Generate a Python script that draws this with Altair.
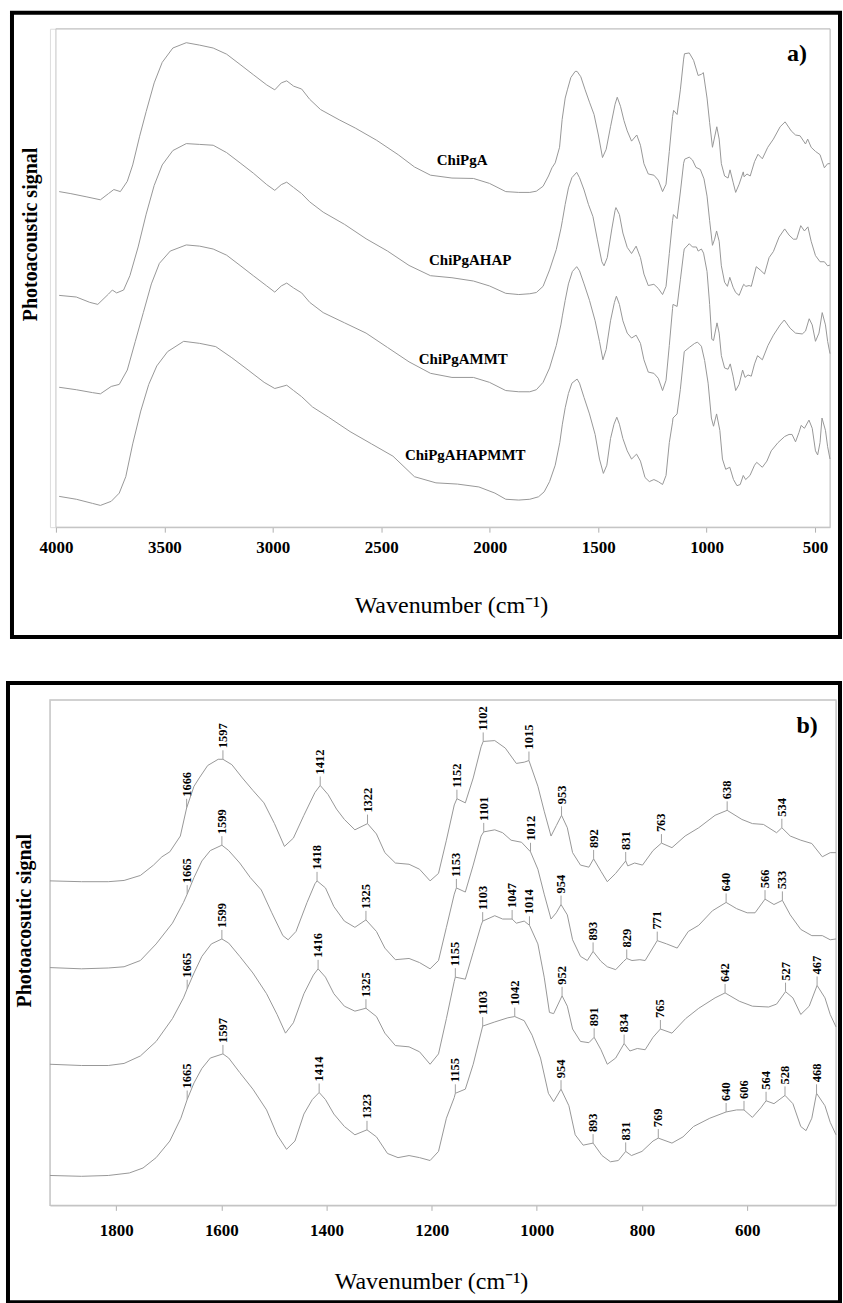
import altair as alt
import pandas as pd

samples = ["ChiPgA", "ChiPgAHAP", "ChiPgAMMT", "ChiPgAHAPMMT"]

# ---- high-wavenumber part (4000-1950 cm-1), heights relative to each trace's 1900 baseline
hi_w_1 = [3985, 3931, 3857, 3795, 3758, 3733, 3703, 3671, 3646, 3614, 3584, 3547, 3510, 3461, 3399, 3337, 3275, 3213, 3151, 3090, 3028, 2991, 2961, 2936, 2904, 2867, 2830, 2780, 2694, 2620, 2521, 2422, 2347, 2273, 2174, 2075, 2001]
hi_h_1 = [0, -5, -13, -20, -5, 5, 0, 25, 65, 135, 195, 265, 315, 350, 363, 357, 350, 335, 310, 285, 260, 248, 265, 270, 257, 250, 225, 200, 175, 155, 125, 90, 60, 40, 33, 32, 20]

hi_w_2 = [3985, 3906, 3844, 3807, 3758, 3740, 3720, 3688, 3659, 3621, 3584, 3547, 3510, 3461, 3399, 3337, 3275, 3213, 3151, 3090, 3028, 2991, 2961, 2936, 2904, 2867, 2830, 2768, 2669, 2570, 2471, 2372, 2273, 2174, 2075, 2001]
hi_h_2 = [-5, -9, -22, -27, -2, 8, 1, 8, 43, 113, 193, 263, 313, 348, 365, 363, 361, 343, 318, 293, 265, 251, 265, 271, 258, 243, 223, 198, 168, 133, 103, 68, 43, 38, 30, 18]

hi_w_3 = [3985, 3906, 3832, 3795, 3745, 3708, 3671, 3634, 3597, 3560, 3523, 3473, 3399, 3337, 3275, 3213, 3151, 3090, 3028, 2991, 2961, 2936, 2904, 2867, 2830, 2768, 2669, 2570, 2471, 2372, 2273, 2174, 2075, 2001]
hi_h_3 = [8, 2, -5, -8, 10, 15, 50, 120, 190, 260, 310, 340, 355, 352, 345, 330, 305, 280, 255, 240, 255, 262, 250, 238, 215, 190, 165, 140, 105, 70, 42, 32, 32, 20]

hi_w_4 = [3985, 3906, 3832, 3795, 3745, 3708, 3678, 3646, 3609, 3572, 3535, 3485, 3411, 3337, 3263, 3189, 3114, 3040, 2991, 2936, 2904, 2867, 2817, 2743, 2644, 2545, 2446, 2347, 2248, 2149, 2050, 1976]
hi_h_4 = [7, 0, -10, -15, -5, 15, 55, 135, 215, 280, 325, 360, 385, 380, 372, 345, 315, 285, 270, 278, 265, 250, 225, 200, 165, 135, 105, 55, 40, 37, 30, 15]

# ---- fingerprint part (1926-431 cm-1)
fp_w_1 = [1926, 1866, 1815, 1785, 1754, 1729, 1713, 1698, 1678, 1666, 1652, 1642, 1626, 1606, 1597, 1580, 1560, 1540, 1519, 1499, 1480, 1463, 1443, 1422, 1412, 1397, 1381, 1366, 1346, 1322, 1305, 1289, 1269, 1243, 1223, 1203, 1187, 1172, 1157, 1152, 1136, 1121, 1106, 1102, 1080, 1060, 1039, 1024, 1015, 998, 986, 973, 963, 953, 942, 932, 917, 901, 892, 878, 866, 850, 831, 827, 814, 799, 779, 763, 743, 718, 692, 661, 638, 610, 590, 569, 544, 534, 518, 498, 477, 457, 442, 431]
fp_h_1 = [0, -2, -2, 1, 13, 38, 58, 70, 108, 176, 228, 248, 278, 293, 293, 280, 248, 218, 188, 138, 83, 103, 158, 213, 230, 208, 173, 148, 123, 138, 113, 68, 43, 40, 28, 0, 18, 98, 183, 198, 188, 248, 323, 336, 338, 320, 283, 286, 290, 228, 168, 108, 133, 158, 128, 68, 38, 33, 53, 23, -2, 18, 48, 36, 43, 38, 73, 91, 80, 108, 128, 158, 170, 148, 138, 136, 116, 128, 108, 98, 90, 58, 68, 68]

fp_w_2 = [1926, 1866, 1815, 1785, 1754, 1724, 1693, 1672, 1665, 1652, 1637, 1621, 1599, 1586, 1565, 1545, 1524, 1504, 1483, 1473, 1458, 1437, 1422, 1418, 1402, 1386, 1366, 1346, 1325, 1305, 1289, 1269, 1243, 1223, 1203, 1187, 1172, 1157, 1153, 1136, 1121, 1106, 1101, 1080, 1065, 1049, 1029, 1012, 998, 986, 973, 963, 954, 942, 932, 917, 904, 893, 878, 866, 850, 835, 829, 819, 804, 794, 771, 753, 733, 712, 692, 666, 640, 620, 600, 585, 566, 549, 533, 518, 498, 477, 457, 442, 431]
fp_h_2 = [0, -3, -1, 2, 17, 57, 107, 157, 177, 217, 257, 282, 295, 282, 252, 217, 187, 132, 77, 67, 87, 157, 202, 209, 192, 147, 112, 97, 115, 87, 47, 19, 22, 12, -3, 17, 97, 177, 192, 182, 247, 317, 327, 332, 325, 307, 302, 279, 237, 177, 117, 132, 152, 127, 67, 27, 17, 39, 15, 2, -5, 15, 22, 17, 19, 17, 65, 57, 47, 87, 102, 137, 157, 142, 132, 132, 165, 152, 162, 127, 92, 77, 77, 67, 69]

fp_w_3 = [1926, 1866, 1815, 1785, 1754, 1724, 1693, 1672, 1665, 1652, 1637, 1619, 1599, 1586, 1565, 1540, 1514, 1494, 1478, 1463, 1443, 1425, 1416, 1402, 1386, 1366, 1346, 1325, 1305, 1289, 1269, 1243, 1223, 1203, 1187, 1172, 1157, 1155, 1136, 1121, 1106, 1103, 1080, 1065, 1047, 1039, 1024, 1014, 998, 986, 976, 968, 952, 942, 932, 917, 901, 891, 878, 866, 850, 834, 823, 809, 794, 779, 765, 743, 717, 692, 661, 642, 615, 590, 559, 544, 527, 513, 498, 482, 467, 452, 442, 431]
fp_h_3 = [0, -3, -3, 2, 20, 55, 110, 160, 182, 220, 260, 290, 302, 292, 260, 220, 170, 120, 75, 100, 170, 215, 230, 210, 170, 140, 128, 135, 115, 75, 45, 42, 30, 0, 25, 110, 200, 210, 205, 270, 335, 345, 358, 350, 350, 340, 345, 335, 290, 210, 125, 122, 165, 140, 85, 55, 52, 65, 35, 0, 15, 50, 32, 38, 35, 65, 85, 75, 110, 135, 160, 172, 152, 140, 138, 145, 175, 160, 120, 140, 190, 160, 120, 90]

fp_w_4 = [1926, 1866, 1815, 1775, 1749, 1724, 1698, 1677, 1665, 1652, 1637, 1621, 1597, 1586, 1565, 1540, 1514, 1494, 1476, 1460, 1443, 1427, 1414, 1402, 1386, 1366, 1346, 1323, 1305, 1284, 1264, 1243, 1223, 1203, 1187, 1172, 1157, 1155, 1136, 1121, 1103, 1080, 1055, 1042, 1024, 1009, 993, 978, 968, 954, 939, 927, 912, 893, 876, 860, 845, 831, 820, 800, 779, 769, 743, 722, 702, 671, 640, 620, 606, 590, 574, 564, 549, 528, 513, 498, 488, 477, 468, 452, 442, 431]
fp_h_4 = [0, -2, 0, 6, 18, 43, 83, 138, 183, 223, 258, 283, 293, 283, 248, 208, 158, 98, 63, 83, 148, 183, 200, 183, 148, 118, 98, 110, 93, 53, 43, 48, 43, 36, 58, 138, 188, 198, 208, 268, 360, 370, 380, 383, 373, 338, 283, 198, 178, 208, 168, 98, 73, 78, 48, 33, 36, 58, 48, 58, 83, 90, 78, 93, 118, 138, 153, 158, 158, 140, 163, 180, 173, 193, 173, 118, 108, 138, 198, 168, 128, 98]

# vertical stacking offsets of each trace in panel a) and b)
offset_a = [818, 570, 333, 68]
offset_b = [782, 573, 340, 72]

# peak annotations in panel b)
peak_w_1 = [1666, 1597, 1412, 1322, 1152, 1102, 1015, 953, 892, 831, 763, 638, 534]
peak_h_1 = [176, 293, 230, 138, 198, 336, 290, 158, 53, 48, 91, 170, 128]
peak_w_2 = [1665, 1599, 1418, 1325, 1153, 1101, 1012, 954, 893, 829, 771, 640, 566, 533]
peak_h_2 = [177, 295, 209, 115, 192, 327, 279, 152, 39, 22, 65, 157, 165, 162]
peak_w_3 = [1665, 1599, 1416, 1325, 1155, 1103, 1047, 1014, 952, 891, 834, 765, 642, 527, 467]
peak_h_3 = [182, 302, 230, 135, 210, 345, 350, 335, 165, 65, 50, 85, 172, 175, 190]
peak_w_4 = [1665, 1597, 1414, 1323, 1155, 1103, 1042, 954, 893, 831, 769, 640, 606, 564, 528, 468]
peak_h_4 = [183, 293, 200, 110, 198, 360, 383, 208, 78, 58, 90, 153, 158, 180, 193, 198]

# sample name labels in panel a)
name_w = [2127, 2090, 2122, 2113]
name_y = [896, 652, 409, 175]

ticks_a = [4000, 3500, 3000, 2500, 2000, 1500, 1000, 500]
ticks_b = [1800, 1600, 1400, 1200, 1000, 800, 600]

hi_w = [hi_w_1, hi_w_2, hi_w_3, hi_w_4]
hi_h = [hi_h_1, hi_h_2, hi_h_3, hi_h_4]
fp_w = [fp_w_1, fp_w_2, fp_w_3, fp_w_4]
fp_h = [fp_h_1, fp_h_2, fp_h_3, fp_h_4]
pk_w = [peak_w_1, peak_w_2, peak_w_3, peak_w_4]
pk_h = [peak_h_1, peak_h_2, peak_h_3, peak_h_4]

rows_a, rows_b, rows_p = [], [], []
for i, s in enumerate(samples):
    for w, h in zip(hi_w[i] + fp_w[i], hi_h[i] + fp_h[i]):
        rows_a.append({"sample": s, "w": w, "y": offset_a[i] + h})
    for w, h in zip(fp_w[i], fp_h[i]):
        rows_b.append({"sample": s, "w": w, "y": offset_b[i] + h})
    for w, h in zip(pk_w[i], pk_h[i]):
        rows_p.append({"sample": s, "w": w, "y": offset_b[i] + h, "lab": str(w)})
df_a = pd.DataFrame(rows_a)
df_b = pd.DataFrame(rows_b)
df_p = pd.DataFrame(rows_p)
df_n = pd.DataFrame({"w": name_w, "y": name_y, "name": samples})
one = pd.DataFrame({"t": [""]})

SERIF = "'Liberation Serif', 'Times New Roman', Times, serif"
LINE = "#989898"
FRAME = "#c4c4c4"


def xaxis(vals, pad):
    return alt.Axis(values=vals, format="d", title=None, grid=False,
                    labelFont=SERIF, labelFontWeight="bold", labelFontSize=17,
                    labelColor="black", labelFlush=False, labelOverlap=False,
                    domainColor=FRAME, tickColor="#b0b0b0", tickSize=5,
                    labelPadding=pad)


# ---------------- panel a ----------------
WA, HA = 781, 499
xa = alt.X("w:Q", scale=alt.Scale(domain=[4000, 431], range=[6, WA], nice=False, zero=False),
           axis=xaxis(ticks_a, 7))
ya = alt.Y("y:Q", scale=alt.Scale(domain=[0, 1215], nice=False, zero=False), axis=None)

box_a = alt.Chart(one).mark_rect(fill="white", fillOpacity=0, stroke=FRAME, strokeWidth=1).encode(
    x=alt.value(6), x2=alt.value(WA), y=alt.value(0), y2=alt.value(HA))
lines_a = alt.Chart(df_a).mark_line(color=LINE, strokeWidth=1).encode(
    x=xa, y=ya, detail="sample:N", order="w:Q")
names_a = alt.Chart(df_n).mark_text(font=SERIF, fontWeight="bold", fontSize=15, color="black",
                                    align="center", baseline="middle").encode(x=xa, y=ya, text="name:N")
ytitle_a = alt.Chart(one).mark_text(text="Photoacoustic signal", font=SERIF, fontWeight="bold",
                                    fontSize=20, angle=270, align="center", baseline="middle",
                                    color="black").encode(x=alt.value(-19), y=alt.value(206))
xtitle_a = alt.Chart(one).mark_text(text="Wavenumber (cm\u207b\u00b9)", font=SERIF, fontSize=24,
                                    align="center", baseline="middle", color="black").encode(
    x=alt.value(402), y=alt.value(578))
tag_a = alt.Chart(one).mark_text(text="a)", font=SERIF, fontWeight="bold", fontSize=24,
                                 align="center", baseline="middle", color="black").encode(
    x=alt.value(748), y=alt.value(25))
frame_a = alt.Chart(one).mark_rect(fill="white", fillOpacity=0, stroke="black", strokeWidth=4).encode(
    x=alt.value(-38), x2=alt.value(791), y=alt.value(-16), y2=alt.value(609))

panel_a = alt.layer(box_a, lines_a, names_a, ytitle_a, xtitle_a, tag_a, frame_a).properties(
    width=WA, height=HA)

# ---------------- panel b ----------------
WB, HB = 787, 506
xb = alt.X("w:Q", scale=alt.Scale(domain=[1926, 431], nice=False, zero=False),
           axis=xaxis(ticks_b, 12))
yb = alt.Y("y:Q", scale=alt.Scale(domain=[0, 1218], nice=False, zero=False), axis=None)

box_b = alt.Chart(one).mark_rect(fill="white", fillOpacity=0, stroke=FRAME, strokeWidth=1.3).encode(
    x=alt.value(0), x2=alt.value(WB), y=alt.value(0), y2=alt.value(HB))
lines_b = alt.Chart(df_b).mark_line(color=LINE, strokeWidth=1).encode(
    x=xb, y=yb, detail="sample:N", order="w:Q")
pticks_b = alt.Chart(df_p).mark_rule(color="#a0a0a0", strokeWidth=1, y2Offset=-9).encode(
    x=xb, y=yb, y2=alt.Y2("y"))
plabels_b = alt.Chart(df_p).mark_text(font=SERIF, fontWeight="bold", fontSize=12.5, color="black",
                                      angle=270, align="left", baseline="middle", dx=11).encode(
    x=xb, y=yb, text="lab:N")
ytitle_b = alt.Chart(one).mark_text(text="Photoacosutic signal", font=SERIF, fontWeight="bold",
                                    fontSize=20, angle=270, align="center", baseline="middle",
                                    color="black").encode(x=alt.value(-25), y=alt.value(221))
xtitle_b = alt.Chart(one).mark_text(text="Wavenumber (cm\u207b\u00b9)", font=SERIF, fontSize=24,
                                    align="center", baseline="middle", color="black").encode(
    x=alt.value(382), y=alt.value(583))
tag_b = alt.Chart(one).mark_text(text="b)", font=SERIF, fontWeight="bold", fontSize=24,
                                 align="center", baseline="middle", color="black").encode(
    x=alt.value(758), y=alt.value(26))
frame_b = alt.Chart(one).mark_rect(fill="white", fillOpacity=0, stroke="black", strokeWidth=4).encode(
    x=alt.value(-42), x2=alt.value(791), y=alt.value(-17), y2=alt.value(603))

panel_b = alt.layer(box_b, lines_b, pticks_b, plabels_b, ytitle_b, xtitle_b, tag_b, frame_b).properties(
    width=WB, height=HB)

chart = alt.vconcat(panel_a, panel_b, spacing=40).properties(
    padding={"left": 5, "top": 9, "right": 0, "bottom": 0}
).configure_view(strokeWidth=0).configure(background="white")

chart.save("out.html", embed_options={"renderer": "svg", "actions": False})
